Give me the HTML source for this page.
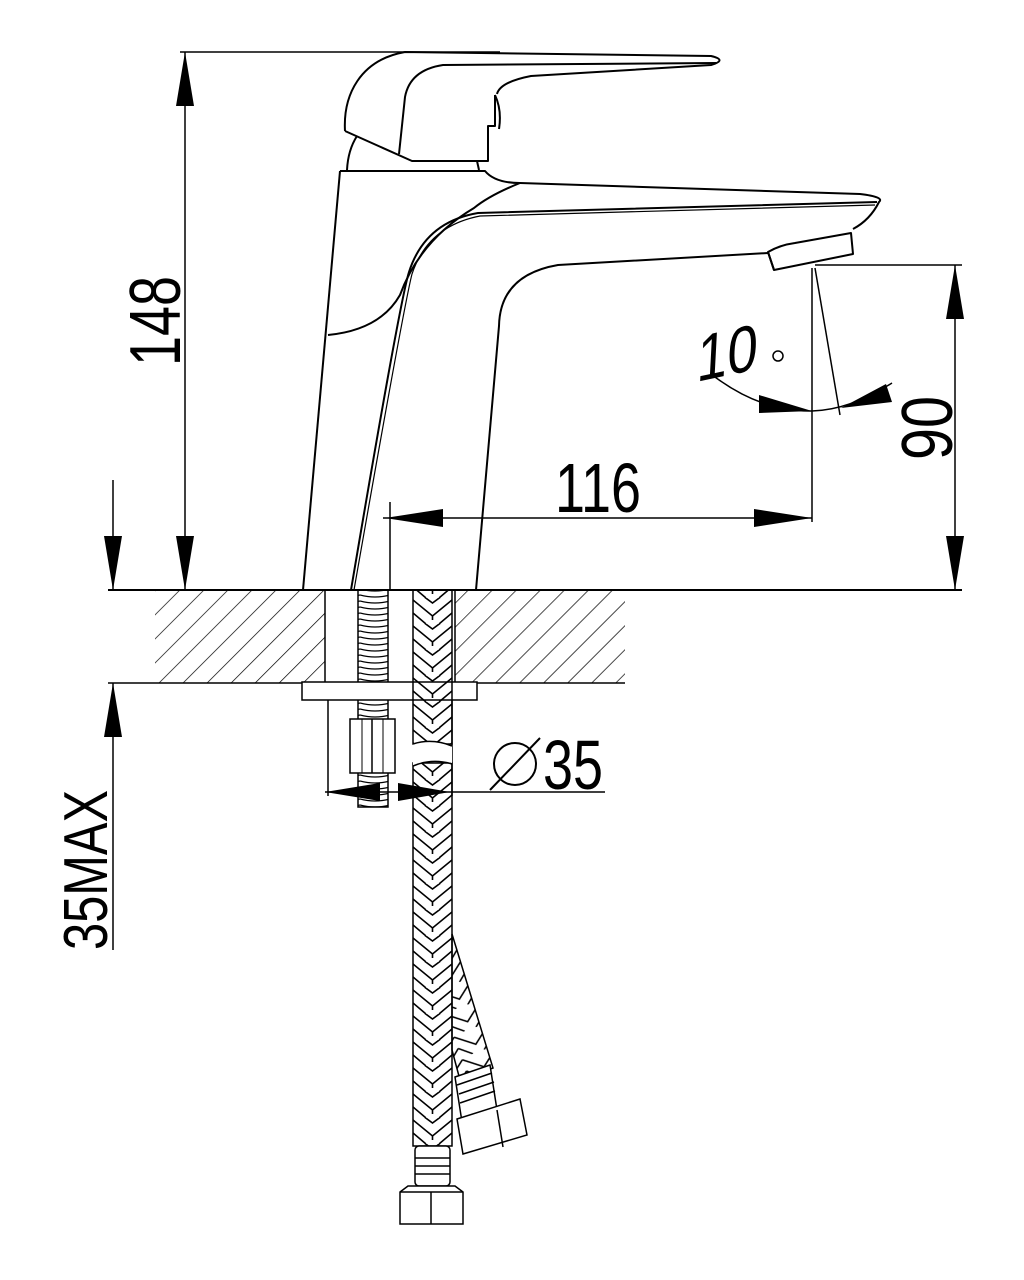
<!DOCTYPE html>
<html><head><meta charset="utf-8"><style>
html,body{margin:0;padding:0;background:#fff}
svg{display:block}
text{font-family:"Liberation Sans Narrow","Liberation Sans",sans-serif;fill:#000}
</style></head><body>
<svg width="1024" height="1280" viewBox="0 0 1024 1280" xmlns="http://www.w3.org/2000/svg">
<defs>
<pattern id="hatch" width="17" height="17" patternUnits="userSpaceOnUse" patternTransform="rotate(45)">
<line x1="0" y1="0" x2="0" y2="17" stroke="#000" stroke-width="1.4"/>
</pattern>
<pattern id="braid" x="413" y="0" width="39" height="26" patternUnits="userSpaceOnUse">
<path d="M0 2 L19.5 18 L39 2 M0 15 L13 26 M39 15 L26 26 M6 -5 L19.5 5 L33 -5 M19.5 18 L19.5 22" stroke="#000" stroke-width="1.6" fill="none"/>
</pattern>
<pattern id="braid2" width="36" height="24" patternUnits="userSpaceOnUse" patternTransform="rotate(-20)">
<path d="M0 2 L18 16 L36 2 M0 14 L12 24 M36 14 L24 24" stroke="#000" stroke-width="1.5" fill="none"/>
</pattern>
<pattern id="thread" width="30" height="6" patternUnits="userSpaceOnUse">
<path d="M0 1 Q15 5 30 1" stroke="#000" stroke-width="1.2" fill="none"/>
</pattern>
</defs>
<g fill="none" stroke="#000" stroke-width="2">
<line x1="180" y1="52" x2="500" y2="52" stroke-width="1.5"/>
<line x1="185" y1="52" x2="185" y2="590" stroke-width="1.5"/>
<line x1="108" y1="590" x2="962" y2="590" stroke-width="2"/>
<line x1="108" y1="683" x2="625" y2="683" stroke-width="1.5"/>
<line x1="113" y1="480" x2="113" y2="590" stroke-width="1.5"/>
<line x1="113" y1="683" x2="113" y2="950" stroke-width="1.5"/>
<line x1="815" y1="265" x2="962" y2="265" stroke-width="1.5"/>
<line x1="955" y1="265" x2="955" y2="590" stroke-width="1.5"/>
<line x1="390" y1="502" x2="390" y2="590" stroke-width="1.5"/>
<line x1="812" y1="268" x2="812" y2="522" stroke-width="1.5"/>
<line x1="383" y1="518" x2="812" y2="518" stroke-width="1.5"/>
<line x1="815" y1="268" x2="840" y2="415" stroke-width="1.5"/>
<path d="M711 374 Q760 412 812 411 Q850 410 892 383" stroke-width="1.5"/>
<line x1="328" y1="683" x2="328" y2="796" stroke-width="1.5"/>
<line x1="325" y1="792" x2="605" y2="792" stroke-width="1.5"/>
<line x1="452" y1="700" x2="452" y2="796" stroke-width="1.5"/>
</g>
<g fill="#000">
<polygon points="185,52 176,106 194,106"/>
<polygon points="185,590 176,536 194,536"/>
<polygon points="113,590 104,536 122,536"/>
<polygon points="113,683 104,737 122,737"/>
<polygon points="955,265 946,319 964,319"/>
<polygon points="955,590 946,536 964,536"/>
<polygon points="385,518 443,509 443,527"/>
<polygon points="812,518 754,509 754,527"/>
<polygon points="812,411 759,395 759,413"/>
<polygon points="841,408 886,384 892,402"/>
<polygon points="325,792 380,783 380,801"/>
<polygon points="450,792 398,783 398,801"/>
</g>
<rect x="155" y="590" width="170" height="93" fill="url(#hatch)"/>
<rect x="455" y="590" width="170" height="93" fill="url(#hatch)"/>
<line x1="325" y1="590" x2="325" y2="683" stroke="#000" stroke-width="1.5"/>
<line x1="455" y1="590" x2="455" y2="683" stroke="#000" stroke-width="1.5"/>
<g fill="none" stroke="#000" stroke-width="2" stroke-linejoin="round">
<path d="M345 131 C343 95 360 60 405 52 L711 56 Q728 60 711 65 L531 76 Q500 82 497 94"/>
<path d="M345 131 L412 161 L488 161 L488 126 L495 126 L495 95"/>
<path d="M495 95 Q502 110 499 129"/>
<path d="M399 154 L405 97 Q410 70 443 65 L716 63"/>
<path d="M357 136 Q348 150 347 170"/>
<path d="M477 161 L479 170"/>
<path d="M340 171 L485 171 Q495 183 520 183 L860 194 Q885 197 879 202 Q870 220 853 229"/>
<path d="M520 183 Q490 195 474 208 Q420 240 400 295 Q380 330 328 335"/>
<path d="M340 171 L303 590"/>
<path d="M877 202 L478 213 Q425 222 409 272 Q400 300 351 590"/>
<path d="M875 205 L480 216 Q428 226 412 274 Q404 305 354 590" stroke-width="1.2"/>
<path d="M768 253 L558 265 Q500 275 499 326 L476 590"/>
<path d="M768 252 Q780 245 795 243 L851 233 L853 254 L774 270 Z"/>
<line x1="774" y1="270" x2="768" y2="252"/>
</g>
<g fill="#fff" stroke="#000" stroke-width="1.5">
<rect x="358" y="590" width="30" height="217" fill="url(#thread)"/>
<rect x="302" y="682" width="175" height="18"/>
<rect x="350" y="719" width="45" height="54"/>
</g>
<line x1="372" y1="719" x2="372" y2="773" stroke="#000" stroke-width="1.5"/>
<line x1="362" y1="719" x2="362" y2="773" stroke="#000" stroke-width="1"/>
<line x1="383" y1="719" x2="383" y2="773" stroke="#000" stroke-width="1"/>
<path d="M452 934 L493 1068 L460 1080 L452 1050 Z" fill="url(#braid2)" stroke="#000" stroke-width="1.5"/>
<g stroke="#000" stroke-width="1.5" fill="#fff">
<path d="M455 1077 L490 1065 L497 1110 L462 1122 Z"/>
<line x1="457" y1="1085" x2="492" y2="1073"/><line x1="459" y1="1094" x2="494" y2="1082"/><line x1="460" y1="1103" x2="495" y2="1091"/>
<path d="M457 1119 L520 1099 L527 1135 L463 1154 Z"/>
<line x1="497" y1="1110" x2="503" y2="1147"/>
</g>
<rect x="413" y="590" width="39" height="154" fill="url(#braid)" stroke="#000" stroke-width="1.5"/>
<rect x="413" y="763" width="39" height="383" fill="url(#braid)" stroke="#000" stroke-width="1.5"/>
<path d="M413 744 Q432 738 452 746 L452 763 Q432 758 413 766 Z" fill="#fff" stroke="none"/>
<path d="M413 744 Q432 738 452 746 M413 766 Q432 758 452 764" fill="none" stroke="#000" stroke-width="1.5"/>
<g stroke="#000" stroke-width="1.5" fill="#fff">
<rect x="415" y="1146" width="35" height="40" rx="4"/>
<line x1="415" y1="1158" x2="450" y2="1158"/><line x1="415" y1="1166" x2="450" y2="1166"/><line x1="415" y1="1174" x2="450" y2="1174"/>
<path d="M400 1192 L408 1186 L455 1186 L463 1192 L463 1224 L400 1224 Z"/>
<line x1="431" y1="1192" x2="431" y2="1224"/>
<line x1="400" y1="1192" x2="463" y2="1192"/>
</g>
<text transform="translate(180,366) rotate(-90)" font-size="72" textLength="90" lengthAdjust="spacingAndGlyphs">148</text>
<text transform="translate(107,950) rotate(-90)" font-size="62" textLength="160" lengthAdjust="spacingAndGlyphs">35MAX</text>
<text transform="translate(952,460) rotate(-90)" font-size="72" textLength="64" lengthAdjust="spacingAndGlyphs">90</text>
<text x="555" y="512" font-size="70" textLength="86" lengthAdjust="spacingAndGlyphs">116</text>
<text transform="translate(696,382) rotate(-12) skewX(-15)" font-size="64" textLength="62" lengthAdjust="spacingAndGlyphs">10</text>
<circle cx="778" cy="356" r="5" fill="none" stroke="#000" stroke-width="1.5"/>
<circle cx="515" cy="764" r="21" fill="none" stroke="#000" stroke-width="2"/>
<line x1="490" y1="790" x2="540" y2="738" stroke="#000" stroke-width="2"/>
<text x="543" y="789" font-size="70" textLength="60" lengthAdjust="spacingAndGlyphs">35</text>
</svg>
</body></html>
